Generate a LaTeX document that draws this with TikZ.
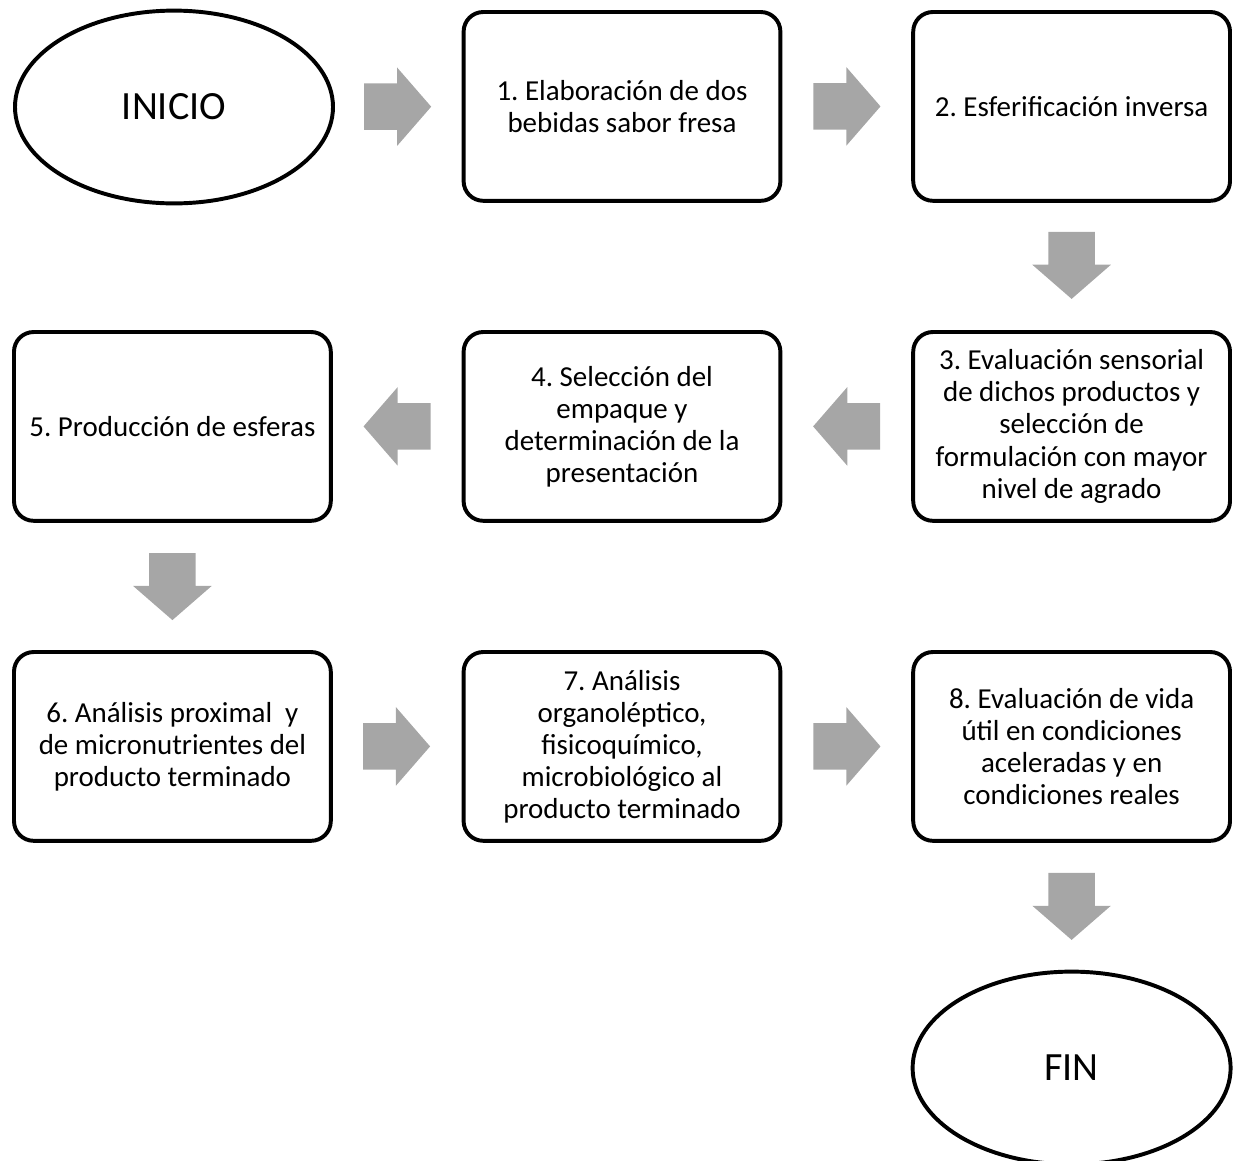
\documentclass[tikz,border=0pt]{standalone}
\usepackage{fontspec}
\setmainfont{Carlito}
\frenchspacing
\usepackage{tikz}
\usetikzlibrary{
positioning,
shapes.geometric,
shapes.arrows,
calc
}
\definecolor{flujogris}{HTML}{A6A6A6}

\begin{document}
\begin{tikzpicture}[
  paso/.style={draw, line width=2.8pt, rounded corners=14pt,
               minimum width=7.92cm, minimum height=4.72cm,
               align=center, inner sep=6pt,
               font=\fontsize{20.6}{22.8}\selectfont},
  extremo/.style={ellipse, draw, line width=2.8pt,
                  minimum width=7.95cm, minimum height=4.82cm,
                  inner sep=0pt, font=\fontsize{28.5}{34}\selectfont},
  flecha/.style={single arrow, fill=flujogris, draw=none,
                 inner xsep=0pt, inner ysep=0.575cm,
                 minimum height=1.675cm,
                 single arrow head extend=0.4cm,
                 single arrow tip angle=98, anchor=tail}
]
\useasboundingbox (0,0) rectangle (30.9,-29);

%% ── FILA 1 ───────────────────────────────────────────────────
\node[extremo] (inicio) at (4.35,-2.675) {INICIO};

\node[paso] (p1) at (15.55,-2.66)
  {1. Elaboración de dos\\
   bebidas sabor fresa};

\node[paso] (p2) at (26.79,-2.66)
  {2. Esferificación inversa};

%% ── FILA 2 ───────────────────────────────────────────────────
\node[paso] (p3) at (26.79,-10.66)
  {3. Evaluación sensorial\\
   de dichos productos y\\
   selección de\\
   formulación con mayor\\
   nivel de agrado};

\node[paso] (p4) at (15.55,-10.66)
  {4. Selección del\\
   empaque y\\
   determinación de la\\
   presentación};

\node[paso] (p5) at (4.31,-10.66)
  {5. Producción de esferas};

%% ── FILA 3 ───────────────────────────────────────────────────
\node[paso] (p6) at (4.31,-18.66)
  {6. Análisis proximal~ y\\
   de micronutrientes del\\
   producto terminado};

\node[paso] (p7) at (15.55,-18.66)
  {7. Análisis\\
   organoléptico,\\
   fisicoquímico,\\
   microbiológico al\\
   producto terminado};

\node[paso] (p8) at (26.79,-18.66)
  {8. Evaluación de vida\\
   útil en condiciones\\
   aceleradas y en\\
   condiciones reales};

\node[extremo] (fin) at (26.79,-26.7) {FIN};

%% Flechas de bloque entre pasos (cola a media distancia menos media flecha)
\node[flecha] (f1) at ($(inicio.east)!0.5!(p1.west)-(0.86,0)$) {};
\node[flecha] (f2) at ($(p1.east)!0.5!(p2.west)-(0.84,0)$) {};
\node[flecha, rotate=-90] (f3) at ($(p2.south)!0.5!(p3.north)+(0,0.87)$) {};
\node[flecha, rotate=180] (f4) at ($(p3.west)!0.5!(p4.east)+(0.84,0)$) {};
\node[flecha, rotate=180] (f5) at ($(p4.west)!0.5!(p5.east)+(0.84,0)$) {};
\node[flecha, rotate=-90] (f6) at ($(p5.south)!0.5!(p6.north)+(0,0.84)$) {};
\node[flecha] (f7) at ($(p6.east)!0.5!(p7.west)-(0.86,0)$) {};
\node[flecha] (f8) at ($(p7.east)!0.5!(p8.west)-(0.84,0)$) {};
\node[flecha, rotate=-90] (f9) at ($(p8.south)!0.5!(fin.north)+(0,0.84)$) {};

\end{tikzpicture}
\end{document}
